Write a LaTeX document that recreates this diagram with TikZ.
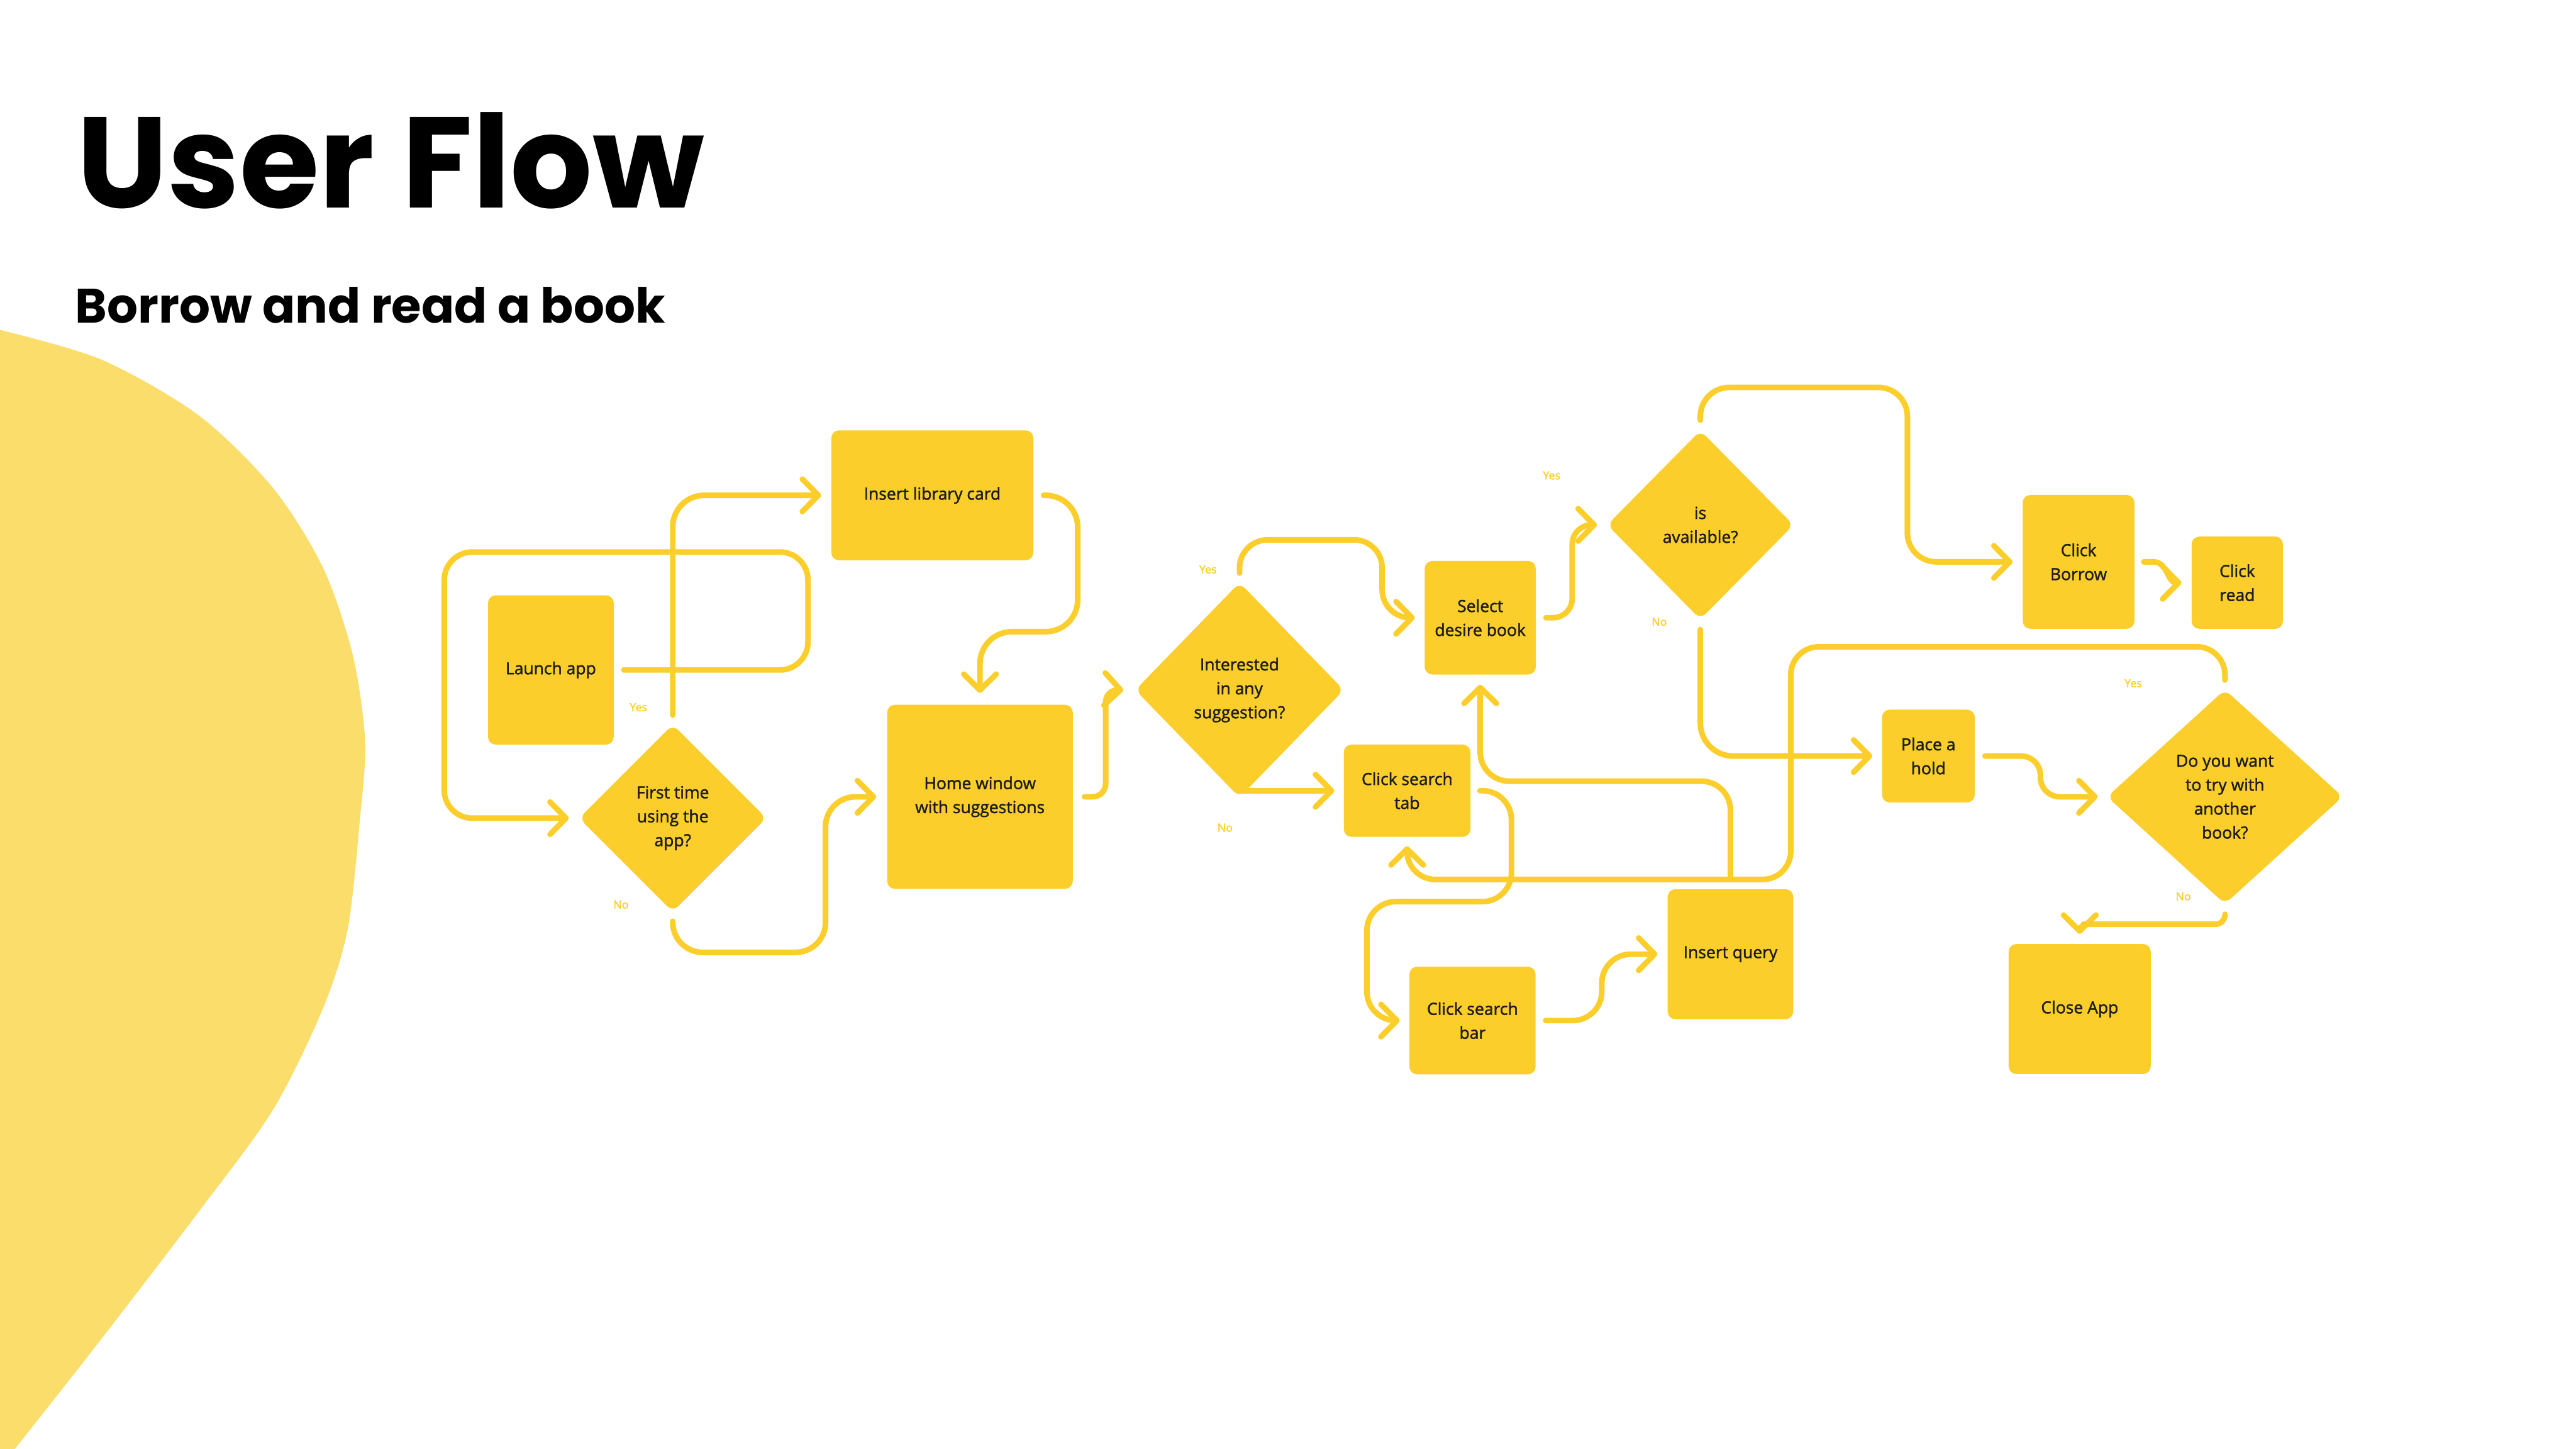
\documentclass[tikz,border=0pt]{standalone}
\usepackage{fontspec}
\usetikzlibrary{arrows.meta,shapes.geometric,calc}
\newfontfamily\nodefont{Open Sans}[BoldFont={Open Sans}, BoldFeatures={FakeBold=1.6}]
\newfontfamily\titlefont{Poppins}
\definecolor{boxY}{HTML}{FCCE2B}
\definecolor{blobY}{HTML}{FADD6B}
\definecolor{txt}{HTML}{1C1C1C}
\begin{document}
\begin{tikzpicture}[x=0.034cm,y=-0.034cm,
  box/.style={fill=boxY, rounded corners=0.16cm, inner sep=0pt,
    font=\nodefont\bfseries\fontsize{9.8}{14.1}\selectfont, text=txt, align=center},
  dia/.style={box, diamond},
  conn/.style={draw=boxY, line width=3.3pt, line cap=round, line join=round},
  arr/.style={conn, -{Straight Barb[length=0.33cm,width=0.67cm,round]}},
  lbl/.style={font=\nodefont\bfseries\fontsize{6.6}{8}\selectfont, text=boxY, inner sep=0pt},
]
\fill[white] (0,0) rectangle (1568,882);
\useasboundingbox (0,0) rectangle (1568,882);

% background blob
\fill[blobY] plot[smooth] coordinates {(0,200.8) (62,219) (120.9,252.8) (166,296.8) (196.5,345.3) (214.6,398.2) (222.2,451) (219,499.5) (211.6,565.6) (196.5,614) (166,675.8) (121,737.5) (60.4,816.7) (9,882)} -- (0,882) -- cycle;

% titles
\node[anchor=base west, inner sep=0pt, font=\titlefont\bfseries\fontsize{76}{80}\selectfont, text=black] (title) at (46.5,126.6) {User Flow};
\node[anchor=base west, inner sep=0pt, font=\titlefont\bfseries\fontsize{28.5}{32}\selectfont, text=black] (subtitle) at (45.6,196.7) {Borrow and read a book};

% nodes
\node[box, minimum width=2.60cm, minimum height=3.09cm] (la) at (335.3,407.8) {Launch app};
\node[box, minimum width=4.18cm, minimum height=2.69cm] (ilc) at (567.5,301.5) {Insert library card};
\node[box, minimum width=3.84cm, minimum height=3.81cm] (hw) at (596.5,485) {Home window\\with suggestions};
\node[dia, minimum width=3.88cm, minimum height=3.88cm] (ft) at (409.5,498) {First time\\using the\\app?};
\node[dia, minimum width=4.32cm, minimum height=4.45cm] (int) at (754.5,420) {Interested\\in any\\suggestion?};
\node[box, minimum width=2.30cm, minimum height=2.35cm] (sdb) at (901,376) {Select\\desire book};
\node[box, minimum width=2.62cm, minimum height=1.91cm] (cst) at (856.5,481.3) {Click search\\tab};
\node[box, minimum width=2.61cm, minimum height=2.23cm] (csb) at (896.3,621.2) {Click search\\bar};
\node[box, minimum width=2.60cm, minimum height=2.69cm] (iq) at (1053.3,580.8) {Insert query};
\node[dia, minimum width=3.86cm, minimum height=3.91cm] (ia) at (1035,319.5) {is\\available?};
\node[box, minimum width=2.31cm, minimum height=2.77cm] (cb) at (1265.2,342) {Click\\Borrow};
\node[box, minimum width=1.89cm, minimum height=1.91cm] (cr) at (1361.8,354.7) {Click\\read};
\node[box, minimum width=1.92cm, minimum height=1.92cm] (ph) at (1173.8,460.2) {Place a\\hold};
\node[dia, minimum width=4.88cm, minimum height=4.44cm] (dy) at (1354.3,485) {Do you want\\to try with\\another\\book?};
\node[box, minimum width=2.94cm, minimum height=2.69cm] (ca) at (1265.9,614.2) {Close App};

% connectors
\draw[arr, rounded corners=0.58cm] ($(la.east)+(6,0)$) -- (491.8,407.8) -- (491.8,336) -- (270.4,336) -- (270.4,498) -- ($(ft.west)+(-6,0)$);
\draw[arr, rounded corners=0.65cm] ($(ft.north)+(0,-5.5)$) |- ($(ilc.west)+(-6,0)$);
\draw[arr, rounded corners=0.66cm] ($(ilc.east)+(6,0)$) -- (656,301.5) -- (656,384.5) -- (596.5,384.5) -- ($(hw.north)+(0,-7)$);
\draw[arr, rounded corners=0.62cm] ($(ft.south)+(0,5.5)$) -- (409.5,579.7) -- (502.5,579.7) -- (502.5,485) -- ($(hw.west)+(-6.5,0)$);
\draw[arr, rounded corners=0.27cm] ($(hw.east)+(7,0)$) -- (673,485) -- (673,419.5) -- ($(int.west)+(-7,0)$);
\draw[arr, rounded corners=0.58cm] ($(int.north)+(0,-5.5)$) -- (754.5,328.6) -- (841.3,328.6) -- (841.3,376) -- ($(sdb.west)+(-5.8,0)$);
\draw[arr] ($(int.south)+(0,-4.3)$) -- ($(cst.west)+(-5.6,0)$);
\draw[arr, rounded corners=0.4cm] ($(sdb.east)+(6,0)$) -- (957,376) -- (957,319.5) -- ($(ia.west)+(-6,0)$);
\draw[arr, rounded corners=0.6cm] ($(ia.north)+(0,-6)$) -- (1035,235.8) -- (1161,235.8) -- (1161,342) -- ($(cb.west)+(-6,0)$);
\draw[arr, rounded corners=0.68cm] ($(ia.south)+(0,6)$) |- ($(ph.west)+(-5.7,0)$);
\draw[arr] ($(cb.east)+(5.5,0)$) -- +(6,0) to[out=0,in=180] ($(cr.west)+(-6,0)$);
\draw[arr, rounded corners=0.4cm] ($(ph.east)+(6,0)$) -- (1242,460.2) -- (1242,485) -- ($(dy.west)+(-5.5,0)$);
\draw[arr, rounded corners=0.58cm] ($(dy.north)+(0,-5.6)$) -- (1354.3,393.7) -- (1090,393.7) -- (1090,535.3) -- (856.5,535.3) -- ($(cst.south)+(0,5.5)$);
\draw[arr, rounded corners=0.6cm] ($(iq.north)+(0,-6)$) -- (1053.3,475.5) -- (901,475.5) -- ($(sdb.south)+(0,6)$);
\draw[arr, rounded corners=0.6cm] ($(cst.east)+(5.6,0)$) -- (920,481.3) -- (920,548.8) -- (832,548.8) -- (832,621.2) -- ($(csb.west)+(-5.7,0)$);
\draw[arr, rounded corners=0.6cm] ($(csb.east)+(6,0)$) -- (975,621.2) -- (975,580.8) -- ($(iq.west)+(-6,0)$);
\draw[arr] ($(dy.south)+(0,6)$) [rounded corners=0.2cm] -- (1354.3,562.6) -- (1274,562.6) [sharp corners] to[out=180,in=90] ($(ca.north)+(0,-6)$);

% labels
\node[lbl] (ly1) at (388.6,430.5) {Yes};
\node[lbl] (ln1) at (378,550.6) {No};
\node[lbl] (ly2) at (735.3,346.6) {Yes};
\node[lbl] (ln2) at (745.7,503.8) {No};
\node[lbl] (ly3) at (944.5,289.4) {Yes};
\node[lbl] (ln3) at (1010,378.5) {No};
\node[lbl] (ly4) at (1298.5,415.9) {Yes};
\node[lbl] (ln4) at (1329,545.6) {No};
\end{tikzpicture}
\end{document}
